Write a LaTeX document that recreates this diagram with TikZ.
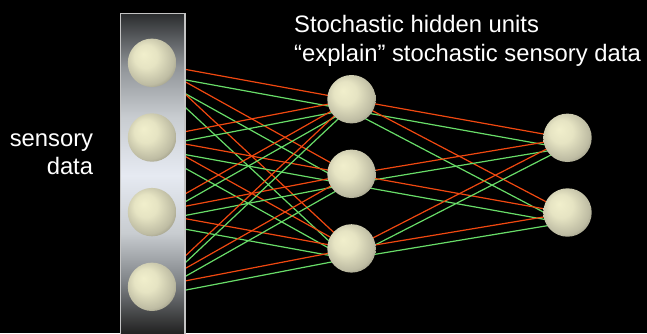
\documentclass[tikz,border=0pt]{standalone}
\usepackage{fontspec}
\setmainfont{Liberation Sans}
\definecolor{sphA}{HTML}{F1EFCC}
\definecolor{sphB}{HTML}{E6E4C3}
\definecolor{sphC}{HTML}{BEBCA3}
\definecolor{sphD}{HTML}{747262}
\definecolor{bx0}{HTML}{1E1E1E}
\definecolor{bx1}{HTML}{282828}
\definecolor{bx2}{HTML}{7C8084}
\definecolor{bx3}{HTML}{C8CCD0}
\definecolor{bx4}{HTML}{E6EAF2}
\definecolor{bx5}{HTML}{909498}
\definecolor{bx6}{HTML}{2A2C2E}
\definecolor{boxborder}{HTML}{C4C4C4}
\definecolor{wred}{HTML}{F04810}
\definecolor{wgreen}{HTML}{68DC68}
\pgfdeclareradialshading{sphsh}{\pgfpoint{-9bp}{9bp}}{color(0bp)=(sphA); color(12bp)=(sphB); color(26bp)=(sphC); color(37bp)=(sphD); color(44bp)=(sphD)}
\pgfdeclareverticalshading{boxsh}{100bp}{color(0bp)=(bx0); color(25bp)=(bx0); color(26.1bp)=(bx1); color(33.35bp)=(bx2); color(41.05bp)=(bx3); color(50bp)=(bx4); color(59bp)=(bx3); color(66.7bp)=(bx5); color(75bp)=(bx6); color(100bp)=(bx6)}
\pgfdeclarelayer{bglayer}
\pgfdeclarelayer{linelayer}
\pgfdeclarelayer{boxlayer}
\pgfsetlayers{bglayer,linelayer,boxlayer,main}
\begin{document}
\begin{tikzpicture}[x=1pt,y=-1pt,
  unit/.style={circle, minimum size=48.4pt, inner sep=0pt, shading=sphsh},
  column/.style={rectangle, minimum width=64.3pt, minimum height=323.7pt, inner sep=0pt, shading=boxsh, draw=boxborder, line width=1.3pt},
  redw/.style={draw=wred, line width=1.2pt},
  greenw/.style={draw=wgreen, line width=1.2pt},
  lbl/.style={text=white, font=\fontsize{23.8}{28}\selectfont, inner sep=0pt}]
\useasboundingbox (0,0) rectangle (647,333);
\begin{pgfonlayer}{bglayer}
\fill[black] (0,0) rectangle (647,333);
\end{pgfonlayer}
% units
\node[unit] (L1) at (152,62.8) {};
\node[unit] (L2) at (152,137.5) {};
\node[unit] (L3) at (152,212.1) {};
\node[unit] (L4) at (152,286.8) {};
\node[unit] (M1) at (351.5,99.2) {};
\node[unit] (M2) at (351.5,173.8) {};
\node[unit] (M3) at (351.5,248.4) {};
\node[unit] (R1) at (567.5,137.8) {};
\node[unit] (R2) at (567.5,212.5) {};
% sensory column
\begin{pgfonlayer}{boxlayer}
\node[column] (col) at (152.85,175.15) {};
\end{pgfonlayer}
% connections
\begin{pgfonlayer}{linelayer}
\foreach \a in {L1,L2,L3,L4}{\foreach \b in {M1,M2,M3}{
  \draw[redw] ([shift={(0,0.5)}]\a.center) -- ([shift={(0,0.5)}]\b.center);
  \draw[greenw] ([shift={(-3.4,10.4)}]\a.center) -- ([shift={(-3.4,10.4)}]\b.center);
}}
\foreach \a in {M1,M2,M3}{\foreach \b in {R1,R2}{
  \draw[redw] ([shift={(0,0.5)}]\a.center) -- ([shift={(0,0.5)}]\b.center);
  \draw[greenw] ([shift={(-3.4,10.4)}]\a.center) -- ([shift={(-3.4,10.4)}]\b.center);
}}
\end{pgfonlayer}
% labels
\node[lbl, anchor=base west] (t1) at (294,32.5) {Stochastic hidden units};
\node[lbl, anchor=base west] (t2) at (294,61.5) {“explain” stochastic sensory data};
\node[lbl, anchor=base east] (s1) at (93.3,146.7) {sensory};
\node[lbl, anchor=base east] (s2) at (93.3,174) {data};
\end{tikzpicture}
\end{document}
